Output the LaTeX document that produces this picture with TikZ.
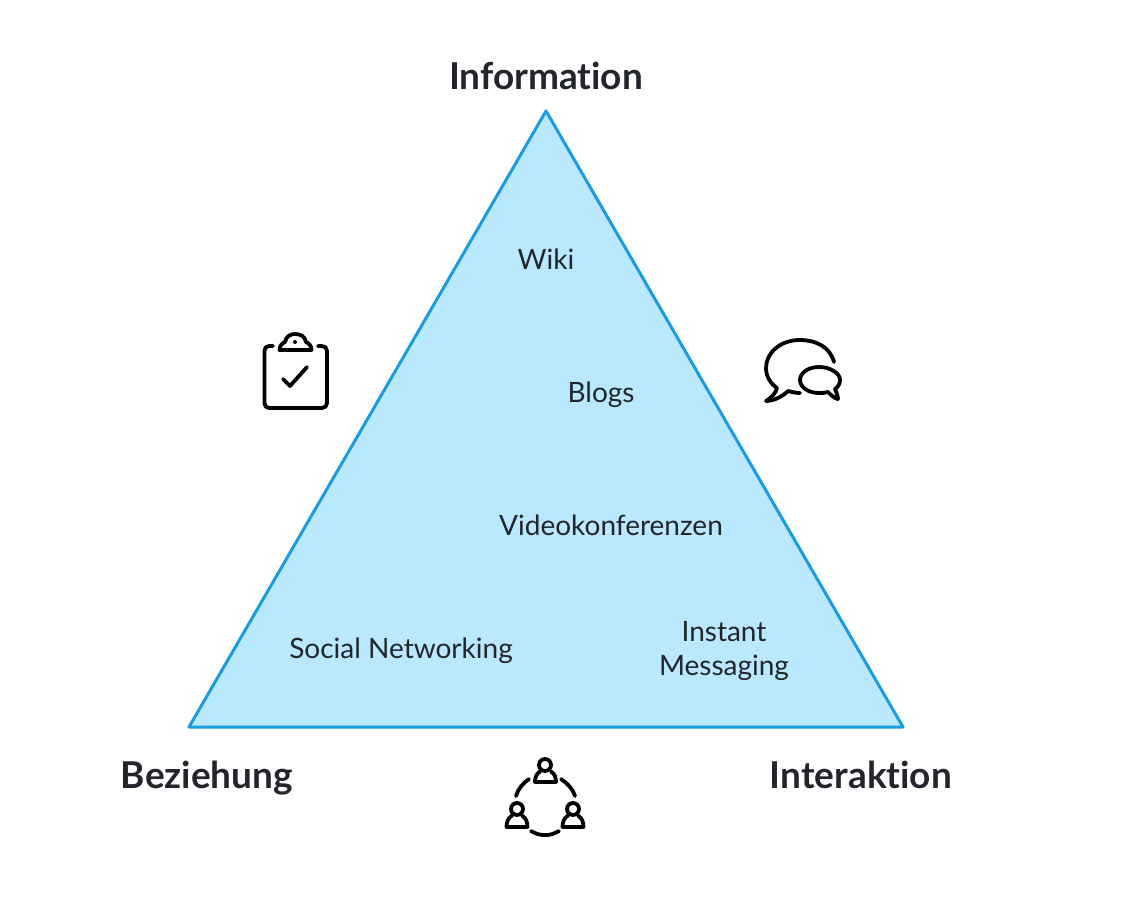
\documentclass[tikz,border=0pt]{standalone}
\usepackage{fontspec}
\setmainfont{Lato}[Ligatures=NoCommon]
\definecolor{trifill}{HTML}{B9E8FF}
\definecolor{triline}{HTML}{1B9BE0}
\definecolor{ink}{HTML}{22262C}
\tikzset{
  corner/.style={font=\fontsize{37}{42}\selectfont\bfseries,text=ink,inner sep=0pt},
  item/.style={font=\fontsize{28}{34}\selectfont,text=ink,inner sep=0pt,align=center},
  icon/.style={draw=black,line width=3.8pt,line cap=round,line join=round}
}
\begin{document}
\begin{tikzpicture}[x=1pt,y=-1pt]
\useasboundingbox (0,0) rectangle (1131,909);
\draw [fill=trifill,draw=triline,line width=3pt,line join=round] (546,111) -- (903,727) -- (189,727) -- cycle;

\node [corner] (information) at (546,76) {Information};
\node [corner] (beziehung) at (207,778) {Beziehung};
\node [corner] (interaktion) at (861,775) {Interaktion};

\node [item] (wiki) at (546,259) {Wiki};
\node [item] (blogs) at (601,395) {Blogs};
\node [item] (video) at (611,525) {Videokonferenzen};
\node [item] (social) at (401,651) {Social Networking};
\node [item] (instant) at (724,651) {Instant\\Messaging};

% clipboard
\draw [icon] (273,346) -- (269,346) .. controls (266,346) and (264.5,348) .. (264.5,351) -- (264.5,403) .. controls (264.5,406) and (266,408) .. (269,408) -- (322,408) .. controls (325,408) and (327,406) .. (327,403) -- (327,351) .. controls (327,348) and (325,346) .. (322,346) -- (318,346);
\draw [icon] (279.5,350) .. controls (279.5,345) and (283,343) .. (285,342) .. controls (286,336) and (291,334) .. (295,334) .. controls (300,334) and (305,336) .. (306,342) .. controls (308,343) and (311.5,345) .. (311.5,350) -- cycle;
\fill (295,342) circle (2);
\draw [icon] (283,379) -- (290,386) -- (307,367);

% speech bubbles
\draw [icon] (834,362) .. controls (830,347) and (816,340) .. (800,340) .. controls (780,340) and (766,353) .. (766,368) .. controls (766,377) and (771,384) .. (777,388) .. controls (776,393) and (771,398) .. (766,401) .. controls (774,401) and (783,396) .. (788,391) .. controls (792,392) and (796,393) .. (800,393);
\draw [icon] (819,367) .. controls (808,367) and (800,373) .. (800,380) .. controls (800,387) and (808,393) .. (819,393) .. controls (822,393) and (825,393) .. (828,392) .. controls (831,395) and (835,399) .. (838,399) .. controls (838,396) and (836,392) .. (835,389) .. controls (838,387) and (840,384) .. (840,380) .. controls (840,373) and (830,367) .. (819,367) -- cycle;

% people
\draw [icon] (545,765) circle (6);
\draw [icon] (540,771.5) .. controls (536,774) and (535,778) .. (535,782) -- (556,782) .. controls (556,778) and (555,774) .. (551,771.5);
\draw [icon] (517,809) circle (6);
\draw [icon] (512,815.5) .. controls (508,818) and (506.5,822) .. (506.5,827) -- (527.5,827) .. controls (527.5,822) and (526,818) .. (522,815.5);
\draw [icon] (573,809) circle (6);
\draw [icon] (568,815.5) .. controls (564,818) and (562.5,822) .. (562.5,827) -- (583.5,827) .. controls (583.5,822) and (582,818) .. (578,815.5);
\draw [icon] (516,796) .. controls (518,789) and (523,783) .. (529,779);
\draw [icon] (561,779) .. controls (567,783) and (573,789) .. (575,796);
\draw [icon] (531,831) .. controls (540,836.5) and (550,836.5) .. (559,831);
\end{tikzpicture}
\end{document}
